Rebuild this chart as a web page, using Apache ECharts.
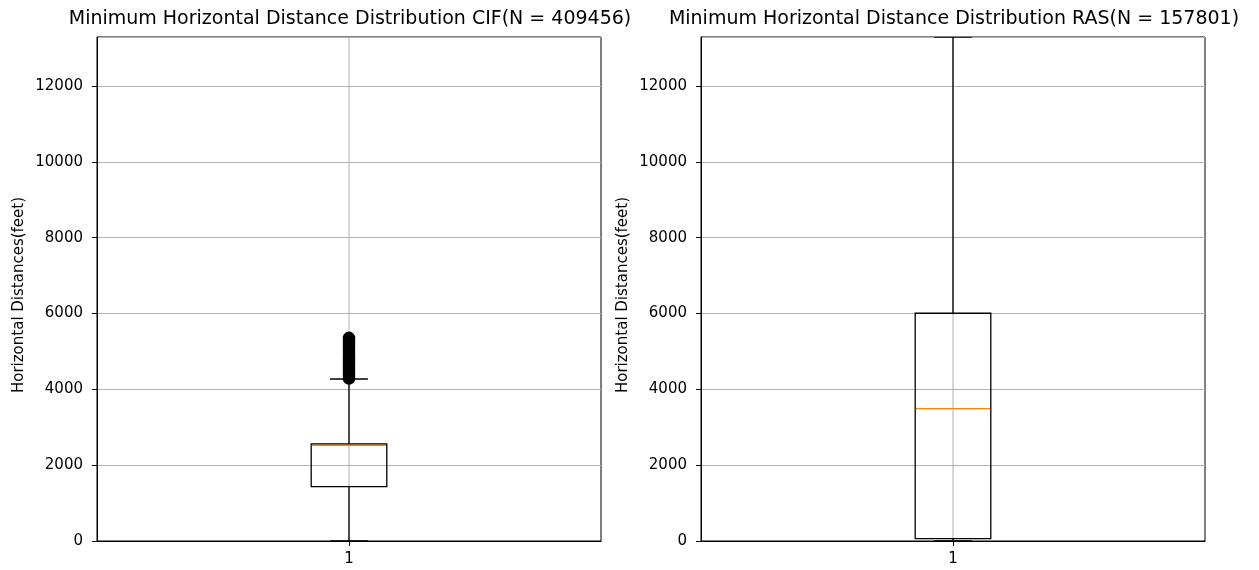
<!DOCTYPE html>
<html>
<head>
<meta charset="utf-8">
<title>Minimum Horizontal Distance Distribution</title>
<script src="https://cdn.jsdelivr.net/npm/echarts@6/dist/echarts.min.js"></script>
<style>
  html, body { margin: 0; padding: 0; background: #fff; }
  #chart { width: 1259px; height: 570px; }
</style>
</head>
<body>
<div id="chart"></div>
<script>
// Box statistics per dataset: [lowerWhisker, q1, median, q3, upperWhisker]
const cifStats = [0, 1432, 2524, 2558, 4272];
const rasStats = [0, 61, 3490, 6005, 13290];

// CIF values above the upper whisker (dense band of fliers)
const cifOutliers = [4281, 4306, 4338, 4372, 4410, 4447, 4483, 4520, 4561, 4598,
  4635, 4672, 4710, 4748, 4790, 4826, 4861, 4900, 4942, 4980, 5018, 5055,
  5096, 5132, 5170, 5210, 5248, 5286, 5322, 5358];

const titles = [
  'Minimum Horizontal Distance Distribution CIF(N = 409456)',
  'Minimum Horizontal Distance Distribution RAS(N = 157801)'
];
const yTitle = 'Horizontal Distances(feet)';
const xCategory = 1;
const yMax = 13290;
const yStep = 2000;

const FONT = 'DejaVu Sans';
const chart = echarts.init(document.getElementById('chart'));

const grids = [
  { left: 97, top: 37, width: 504, height: 504 },
  { left: 701, top: 37, width: 504, height: 504 }
];

function boxRenderer(stats) {
  return function (params, api) {
    const x = api.value(0);
    const pLow = api.coord([x, stats[0]]);
    const pQ1 = api.coord([x, stats[1]]);
    const pMed = api.coord([x, stats[2]]);
    const pQ3 = api.coord([x, stats[3]]);
    const pHigh = api.coord([x, stats[4]]);
    const left = api.coord([x - 0.075, 0])[0];
    const right = api.coord([x + 0.075, 0])[0];
    const capL = api.coord([x - 0.0375, 0])[0];
    const capR = api.coord([x + 0.0375, 0])[0];
    const cx = pQ1[0];
    const top = api.coord([x, yMax])[1];
    const bottom = api.coord([x, 0])[1];
    const black = { stroke: '#000', lineWidth: 1.3, fill: null };
    return {
      type: 'group',
      children: [
        // vertical grid line at the category
        { type: 'line', z2: 0, shape: { x1: cx, y1: top, x2: cx, y2: bottom },
          style: { stroke: '#b0b0b0', lineWidth: 1 } },
        // whiskers
        { type: 'line', shape: { x1: cx, y1: pQ1[1], x2: cx, y2: pLow[1] }, style: black },
        { type: 'line', shape: { x1: cx, y1: pQ3[1], x2: cx, y2: pHigh[1] }, style: black },
        // caps
        { type: 'line', shape: { x1: capL, y1: pLow[1], x2: capR, y2: pLow[1] }, style: black },
        { type: 'line', shape: { x1: capL, y1: pHigh[1], x2: capR, y2: pHigh[1] }, style: black },
        // box
        { type: 'rect', shape: { x: left, y: pQ3[1], width: right - left, height: pQ1[1] - pQ3[1] },
          style: black },
        // median
        { type: 'line', z2: 5, shape: { x1: left + 0.7, y1: pMed[1], x2: right - 0.7, y2: pMed[1] },
          style: { stroke: '#ff7f0e', lineWidth: 1.4 } }
      ]
    };
  };
}

function xAxisFor(i) {
  return {
    gridIndex: i, type: 'value', min: 0.5, max: 1.5, interval: 0.5,
    axisLine: { show: true, onZero: false, lineStyle: { color: '#000', width: 1 } },
    axisTick: { show: true, length: 5, customValues: [xCategory], lineStyle: { color: '#000' } },
    axisLabel: { customValues: [xCategory], margin: 11, color: '#000', fontSize: 15, fontFamily: FONT,
      formatter: v => String(v) },
    splitLine: { show: false }
  };
}

function yAxisFor(i) {
  return {
    gridIndex: i, type: 'value', min: 0, max: yMax, interval: yStep,
    name: yTitle, nameLocation: 'middle', nameRotate: 90, nameGap: 70,
    nameTextStyle: { color: '#000', fontSize: 15, fontFamily: FONT, padding: [0, 12, 0, 0] },
    axisLine: { show: true, lineStyle: { color: '#000', width: 1 } },
    axisTick: { show: true, length: 5, lineStyle: { color: '#000' } },
    axisLabel: { margin: 14, color: '#000', fontSize: 15, fontFamily: FONT, showMaxLabel: false,
      formatter: v => String(v) },
    splitLine: { show: true, lineStyle: { color: '#b0b0b0', width: 1 } }
  };
}

chart.setOption({
  animation: false,
  backgroundColor: '#fff',
  title: titles.map((t, i) => ({
    text: t,
    left: grids[i].left + grids[i].width / 2 - 4,
    textAlign: 'center',
    top: 5,
    textStyle: { color: '#000', fontSize: 19, fontWeight: 'normal', fontFamily: FONT }
  })),
  grid: grids.map(g => Object.assign({ show: true, borderColor: '#000', borderWidth: 1, backgroundColor: 'transparent' }, g)),
  xAxis: [xAxisFor(0), xAxisFor(1)],
  yAxis: [yAxisFor(0), yAxisFor(1)],
  series: [
    { type: 'custom', xAxisIndex: 0, yAxisIndex: 0, clip: true,
      data: [[xCategory]], renderItem: boxRenderer(cifStats), z: 2 },
    { type: 'custom', xAxisIndex: 1, yAxisIndex: 1, clip: true,
      data: [[xCategory]], renderItem: boxRenderer(rasStats), z: 2 },
    { type: 'scatter', xAxisIndex: 0, yAxisIndex: 0, z: 3,
      data: cifOutliers.map(v => [xCategory, v]),
      symbol: 'circle', symbolSize: 11,
      itemStyle: { color: '#000', borderColor: '#000', borderWidth: 1.4, opacity: 1 } }
  ]
});
</script>
</body>
</html>
